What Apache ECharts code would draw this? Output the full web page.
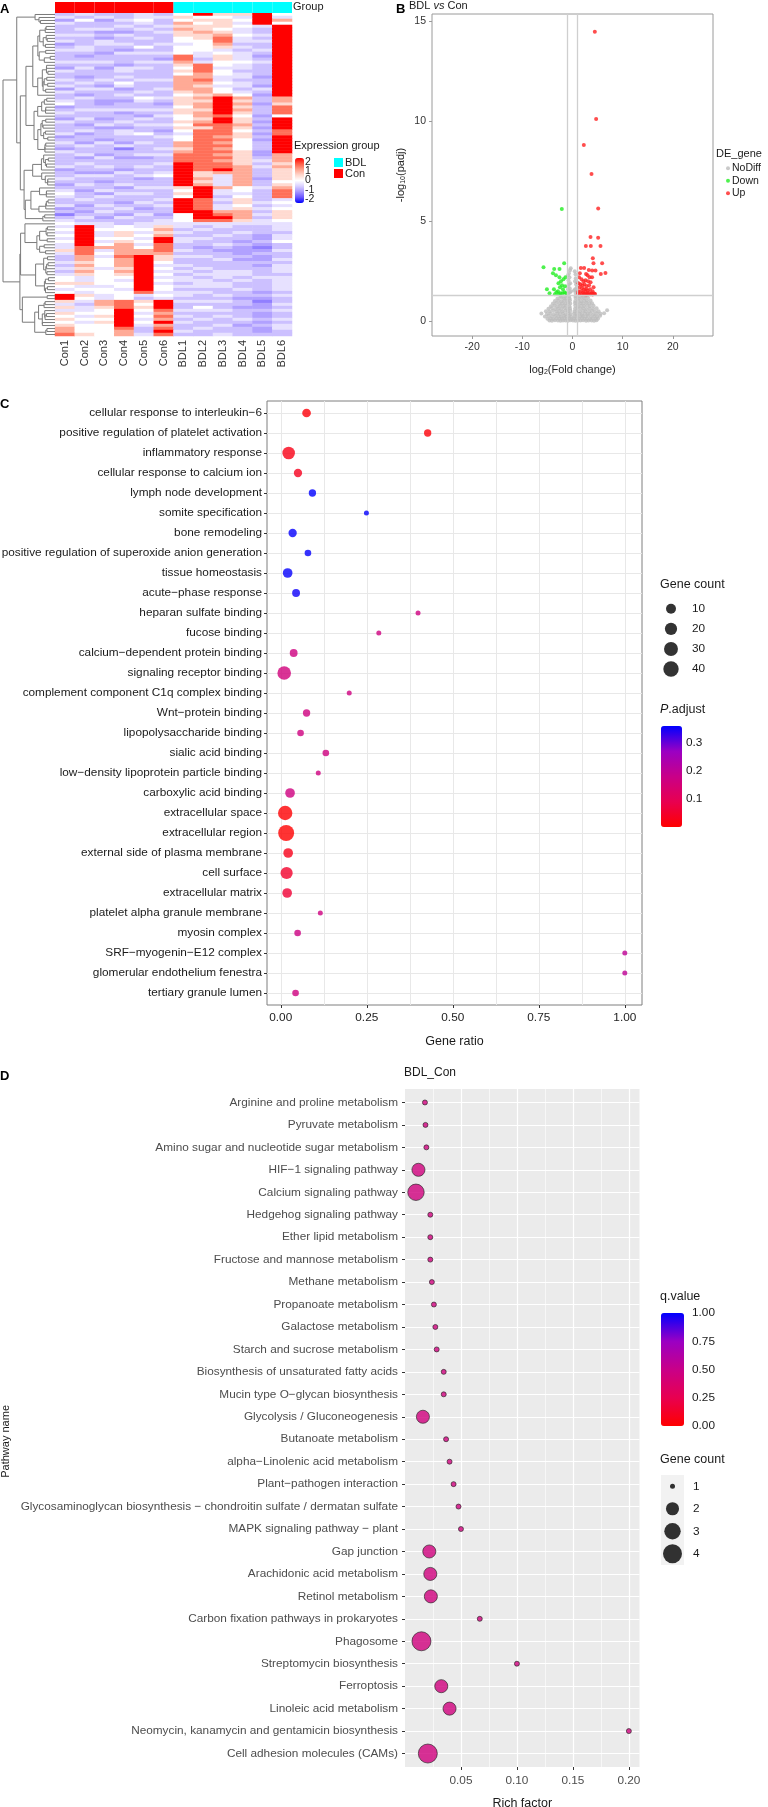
<!DOCTYPE html>
<html>
<head>
<meta charset="utf-8">
<script src="https://cdn.jsdelivr.net/npm/echarts@6/dist/echarts.min.js"></script>
<style>
html, body { margin: 0; padding: 0; background: #fff; }
#main { width: 768px; height: 1807px; }
</style>
</head>
<body>
<div id="main"></div>
<script>
// ---------- panel A: expression heatmap ----------
var samples = ['Con1', 'Con2', 'Con3', 'Con4', 'Con5', 'Con6', 'BDL1', 'BDL2', 'BDL3', 'BDL4', 'BDL5', 'BDL6'];
var sampleGroup = ['Con', 'Con', 'Con', 'Con', 'Con', 'Con', 'BDL', 'BDL', 'BDL', 'BDL', 'BDL', 'BDL'];
// one char per gene row (top to bottom), index into exprLevels
var exprLevels = [-1.3, -1.0, -0.7, -0.35, 0, 0.5, 1.0, 1.5, 2.2];
var exprCon1 = ['2313222323','1232223213','2232313223','4123213222','3123213222','2312232123','4322312023','4',
  '3434343','3532','232323','445434','88','5353','54545','667'].join('');
var exprCon2 = ['3242232322','2332123232','2123232132','2232232123','1221322312','3221322321','2232121232','3',
  '8888888','7776','656565','335343','54','3233','43434','445'].join('');
var exprCon3 = ['2312231213','3221223212','2232132221','1232212312','2213222132','2321321223','1322323212','3',
  '3433434','6343','444344','444344','33','6654','45454','444'].join('');
var exprCon4 = ['2232321322','3213222133','2324312321','2231223213','3221302212','2213222312','3221232132','2',
  '4455456','6667','666565','434434','44','7778','88888','766'].join('');
var exprCon5 = ['3343232232','2423223232','2232223243','2232132322','4223222312','2322312232','3223212322','3',
  '3434343','4668','888888','888887','32','5454','34343','223'].join('');
var exprCon6 = ['2322323222','3223213222','2232232232','1232322321','2322232322','3223422232','2232322123','3',
  '5656887','7765','543434','343443','43','8887','67686','787'].join('');
var exprBDL1 = ['4546565544','3444776545','4666665455','5455445454','3446656777','8888888854','5488888444','3',
  '3232332232','3223232332','3233232232','3232232'].join('');
var exprBDL2 = ['8454556554','4443323777','6676566565','6656656757','7777777777','7775565688','8877778887','3',
  '2322322122','3222323233','3232232432','2322322'].join('');
var exprBDL3 = ['5455545677','6534554434','4334344688','8888788777','7676767676','7786333363','3232336787','3',
  '3223223212','2322233323','3223232232','3223223'].join('');
var exprBDL4 = ['5343433433','2323334332','3323323465','6565455654','5544445555','5666666644','3455456665','3',
  '2232212111','2122233232','2322122122','2321222'].join('');
var exprBDL5 = ['8888322323','2232123222','2122132122','1222121212','1212221123','2322212232','2223232323','3',
  '2221121012','1121222322','2212101121','1212112'].join('');
var exprBDL6 = ['4364888888','8888888888','8888888866','5777488887','7888888666','5655554567','7734345554','3',
  '3323342232','2323332333','3323223232','2323322'].join('');
var exprCols = [exprCon1, exprCon2, exprCon3, exprCon4, exprCon5, exprCon6,
                exprBDL1, exprBDL2, exprBDL3, exprBDL4, exprBDL5, exprBDL6];
var exprTicksEven = [-2, 0, 2];
var exprTicksOdd = [-1, 1];

// ---------- panel B: volcano ----------
var noDiffPoints = [
  [-4.6,0.04],[-4.1,0.02],[-3.5,0.05],[-2.9,0.03],[-2.4,0.02],[-1.9,0.04],[-1.4,0.03],[-0.9,0.02],[-0.4,0.05],[0.1,0.03],
  [0.6,0.02],[1.1,0.04],[1.6,0.03],[2.1,0.05],[2.7,0.02],[3.2,0.04],[3.8,0.03],[4.3,0.02],[4.8,0.05],
  [-5.0,0.12],[-4.4,0.14],[-3.8,0.11],[-3.2,0.15],[-2.6,0.12],[-2.1,0.13],[-1.6,0.16],[-1.1,0.12],[-0.6,0.14],[-0.2,0.11],
  [0.3,0.15],[0.8,0.12],[1.3,0.13],[1.9,0.16],[2.4,0.12],[2.9,0.14],[3.5,0.11],[4.0,0.15],[4.6,0.12],[5.1,0.14],
  [-5.5,0.24],[-4.8,0.27],[-4.1,0.23],[-3.4,0.26],[-2.8,0.25],[-2.3,0.22],[-1.7,0.27],[-1.2,0.24],[-0.7,0.26],[-0.3,0.23],
  [0.4,0.25],[0.9,0.27],[1.5,0.23],[2.0,0.26],[2.6,0.24],[3.1,0.27],[3.7,0.22],[4.4,0.26],[4.9,0.24],[5.5,0.27],
  [-6.2,0.38],[-5.1,0.36],[-4.4,0.39],[-3.7,0.35],[-3.0,0.38],[-2.5,0.36],[-1.9,0.39],[-1.3,0.35],[-0.8,0.38],[-0.35,0.36],
  [0.35,0.39],[0.8,0.36],[1.4,0.38],[1.9,0.35],[2.5,0.39],[3.0,0.36],[3.6,0.38],[4.2,0.35],[4.9,0.39],[5.6,0.37],[6.3,0.4],
  [-5.3,0.5],[-4.6,0.48],[-3.9,0.52],[-3.2,0.49],[-2.6,0.51],[-2.0,0.48],[-1.4,0.52],[-0.9,0.5],[-0.45,0.53],[0.4,0.49],
  [0.9,0.52],[1.5,0.48],[2.1,0.51],[2.6,0.5],[3.3,0.48],[3.9,0.52],[4.5,0.49],[5.2,0.5],[6.9,0.55],
  [-4.8,0.62],[-4.1,0.65],[-3.4,0.61],[-2.8,0.64],[-2.2,0.62],[-1.6,0.66],[-1.0,0.63],[-0.5,0.65],[0.5,0.62],[1.0,0.66],
  [1.6,0.63],[2.2,0.65],[2.8,0.61],[3.4,0.64],[4.1,0.62],[4.8,0.65],
  [-4.3,0.75],[-3.6,0.78],[-3.0,0.74],[-2.4,0.77],[-1.8,0.76],[-1.2,0.79],[-0.6,0.75],[0.55,0.78],[1.1,0.74],[1.7,0.77],
  [2.3,0.76],[2.9,0.79],[3.5,0.75],[4.2,0.77],
  [-3.9,0.88],[-3.2,0.91],[-2.6,0.87],[-2.0,0.9],[-1.4,0.89],[-0.85,0.92],[-0.45,0.88],[0.5,0.91],[1.0,0.87],[1.6,0.9],
  [2.2,0.89],[2.8,0.92],[3.4,0.88],[3.9,0.9],
  [-3.5,1.01],[-2.8,1.04],[-2.2,1.0],[-1.6,1.03],[-1.0,1.02],[-0.5,1.05],[0.55,1.01],[1.1,1.04],[1.7,1.0],[2.3,1.03],
  [2.9,1.02],[3.6,1.04],
  [-3.0,1.14],[-2.3,1.17],[-1.7,1.13],[-1.2,1.16],[-0.6,1.15],[0.6,1.17],[1.2,1.13],[1.8,1.16],[2.4,1.15],[3.1,1.17],
  [-2.4,1.26],[-1.8,1.24],[-1.2,1.27],[-0.7,1.25],[0.6,1.26],[1.2,1.24],[1.9,1.27],[2.6,1.25],
  [-0.8,1.4],[-0.5,1.45],[0.6,1.42],[0.9,1.5],[-0.9,1.6],[-0.55,1.65],[0.55,1.6],[0.85,1.7],[-0.7,1.85],[-0.45,1.9],
  [0.7,1.85],[0.5,2.0],[-0.8,2.05],[-0.6,2.2],[0.65,2.15],[-0.7,2.4],[-0.5,2.55],[0.6,2.35],[-0.35,2.65],[0.45,2.5],
  [-0.9,2.3],[0.9,1.95],[-0.95,1.75],[0.35,1.55],[-0.3,1.5]
];
var downPoints = [
  [-2.13,5.61],[-5.78,2.69],[-3.65,2.61],[-2.59,2.61],[-1.66,2.89],[-3.9,2.4],[-3.3,2.3],[-2.6,2.2],[-2.3,2.0],
  [-5.1,1.6],[-4.58,1.39],[-3.7,1.6],[-2.9,1.5],[-2.5,1.7],[-2.1,1.8],[-1.9,1.6],[-1.5,1.75],[-2.8,1.9],[-3.2,1.45],
  [-2.4,1.4],[-2.0,1.4],[-1.6,1.45],[-1.3,1.4],[-2.7,1.35],[-3.5,1.35],[-1.8,2.1],[-1.4,2.2]
];
var upPoints = [
  [4.45,14.46],[4.71,10.1],[2.26,8.8],[3.79,7.36],[5.12,5.63],[3.59,4.21],[5.11,4.17],[2.66,3.76],[3.65,3.76],[5.58,3.76],
  [4.05,3.15],[4.18,2.9],[5.91,2.89],[1.66,2.66],[2.32,2.66],[3.25,2.56],[3.92,2.53],[4.58,2.53],[5.64,2.36],[6.57,2.41],
  [1.46,2.39],[2.7,2.36],[3.0,2.3],[3.4,2.2],[1.3,2.2],[1.8,2.1],[2.2,2.0],[2.6,2.05],[3.1,2.0],[3.6,1.95],
  [1.2,1.9],[1.6,1.85],[2.0,1.8],[2.4,1.85],[2.8,1.75],[3.3,1.8],[1.4,1.7],[1.9,1.65],[2.3,1.6],[2.7,1.6],
  [3.0,1.55],[3.5,1.6],[4.0,1.5],[1.2,1.5],[1.7,1.5],[2.1,1.45],[2.5,1.45],[2.9,1.4],[3.3,1.42],[3.8,1.4],
  [4.3,1.38],[1.4,1.36],[1.9,1.35],[2.3,1.34],[2.7,1.33],[3.1,1.35],[3.6,1.34],[4.0,1.33],[4.5,1.36],[1.1,1.4],
  [4.2,1.7],[3.9,2.2]
];
var foldCut = 1;
var padjLine = -Math.log10(0.05);
var volcanoXTicks = [-20, -10, 0, 10, 20];
var volcanoYTicks = [0, 5, 10, 15];

// ---------- panel C: GO enrichment ----------
var goTerms = [
  'cellular response to interleukin\u22126', 'positive regulation of platelet activation', 'inflammatory response',
  'cellular response to calcium ion', 'lymph node development', 'somite specification', 'bone remodeling',
  'positive regulation of superoxide anion generation', 'tissue homeostasis', 'acute\u2212phase response',
  'heparan sulfate binding', 'fucose binding', 'calcium\u2212dependent protein binding', 'signaling receptor binding',
  'complement component C1q complex binding', 'Wnt\u2212protein binding', 'lipopolysaccharide binding',
  'sialic acid binding', 'low\u2212density lipoprotein particle binding', 'carboxylic acid binding',
  'extracellular space', 'extracellular region', 'external side of plasma membrane', 'cell surface',
  'extracellular matrix', 'platelet alpha granule membrane', 'myosin complex', 'SRF\u2212myogenin\u2212E12 complex',
  'glomerular endothelium fenestra', 'tertiary granule lumen'
];
var goRatio = [0.075, 0.427, 0.023, 0.050, 0.092, 0.249, 0.0345, 0.079, 0.020, 0.0445,
               0.399, 0.285, 0.0375, 0.010, 0.199, 0.075, 0.0575, 0.131, 0.109, 0.027,
               0.0129, 0.0157, 0.0215, 0.017, 0.0186, 0.115, 0.049, 1.0, 1.0, 0.043];
var goCount = [6, 3, 22, 5, 3, 1, 5, 2, 9, 4,
               1, 1, 4, 28, 1, 3, 2, 2, 1, 9,
               33, 45, 9, 20, 9, 1, 2, 1, 1, 2];
var goPadj = [0.012, 0.012, 0.025, 0.035, 0.358, 0.355, 0.355, 0.355, 0.355, 0.35,
              0.165, 0.165, 0.165, 0.16, 0.165, 0.165, 0.165, 0.165, 0.165, 0.165,
              0.004, 0.002, 0.03, 0.05, 0.06, 0.165, 0.17, 0.2, 0.2, 0.165];
var goRatioTicks = [0, 0.25, 0.5, 0.75, 1.0];
var goCountBreaks = [10, 20, 30, 40];
var goPadjTicks = [0.1, 0.2, 0.3];

// ---------- panel D: KEGG enrichment ----------
var keggPathways = [
  'Arginine and proline metabolism', 'Pyruvate metabolism', 'Amino sugar and nucleotide sugar metabolism',
  'HIF\u22121 signaling pathway', 'Calcium signaling pathway', 'Hedgehog signaling pathway', 'Ether lipid metabolism',
  'Fructose and mannose metabolism', 'Methane metabolism', 'Propanoate metabolism', 'Galactose metabolism',
  'Starch and sucrose metabolism', 'Biosynthesis of unsaturated fatty acids', 'Mucin type O\u2212glycan biosynthesis',
  'Glycolysis / Gluconeogenesis', 'Butanoate metabolism', 'alpha\u2212Linolenic acid metabolism',
  'Plant\u2212pathogen interaction', 'Glycosaminoglycan biosynthesis \u2212 chondroitin sulfate / dermatan sulfate',
  'MAPK signaling pathway \u2212 plant', 'Gap junction', 'Arachidonic acid metabolism', 'Retinol metabolism',
  'Carbon fixation pathways in prokaryotes', 'Phagosome', 'Streptomycin biosynthesis', 'Ferroptosis',
  'Linoleic acid metabolism', 'Neomycin, kanamycin and gentamicin biosynthesis', 'Cell adhesion molecules (CAMs)'
];
var keggRich = [0.0178, 0.0183, 0.0191, 0.0120, 0.0098, 0.0226, 0.0226, 0.0226, 0.0240, 0.0258,
                0.0271, 0.0283, 0.0346, 0.0346, 0.0160, 0.0367, 0.0398, 0.0434, 0.0478, 0.0500,
                0.0217, 0.0226, 0.0231, 0.0668, 0.0147, 0.1000, 0.0324, 0.0398, 0.2000, 0.0204];
var keggCount = [1, 1, 1, 2, 3, 1, 1, 1, 1, 1,
                 1, 1, 1, 1, 2, 1, 1, 1, 1, 1,
                 2, 2, 2, 1, 4, 1, 2, 2, 1, 4];
var keggQ = [0.45, 0.45, 0.45, 0.45, 0.45, 0.45, 0.45, 0.45, 0.45, 0.45,
             0.45, 0.45, 0.45, 0.45, 0.45, 0.45, 0.45, 0.45, 0.45, 0.45,
             0.45, 0.45, 0.45, 0.45, 0.45, 0.45, 0.45, 0.45, 0.45, 0.45];
var keggRichTicks = [0.05, 0.10, 0.15, 0.20];
var keggCountBreaks = [1, 2, 3, 4];
var keggQTicks = [0, 0.25, 0.5, 0.75, 1.0];

// ---------- helpers ----------
var FONT_A = '"Liberation Sans", Arial, sans-serif';
var FONT_N = '"Liberation Sans Narrow", "Arial Narrow", "Liberation Sans", sans-serif';
var LBL = 11.8;   // enrichment plot label size
var heatColors = ['#0000FF', '#6a55ff', '#a897ff', '#d9d0ff', '#FFFFFF', '#ffd6cc', '#ffa08a', '#ff5c45', '#FF0000'];
var redBlue = ['#FF0000', '#E80050', '#C90088', '#9A00C3', '#0000FF'];

var nRows = exprCon1.length;
var exprRows = [];
for (var r = 0; r < nRows; r++) {
  var row = [];
  for (var c = 0; c < exprCols.length; c++) row.push(exprLevels[+exprCols[c].charAt(r)]);
  exprRows.push(row);
}
var heatData = [];
exprRows.forEach(function (row, ri) {
  row.forEach(function (v, ci) { heatData.push([ci, ri, v]); });
});
var rowIds = exprRows.map(function (_, i) { return String(i); });

// row dendrogram: complete linkage, merging neighbouring clusters so the row order is kept
function buildDendrogram(rows) {
  var n = rows.length, dist = [];
  for (var i = 0; i < n; i++) {
    dist.push([]);
    for (var j = 0; j < n; j++) {
      var s = 0;
      for (var k = 0; k < rows[i].length; k++) { var d = rows[i][k] - rows[j][k]; s += d * d; }
      dist[i].push(Math.sqrt(s));
    }
  }
  function link(a, b) {
    var m = 0;
    a.members.forEach(function (p) { b.members.forEach(function (q) { if (dist[p][q] > m) m = dist[p][q]; }); });
    return m;
  }
  var clusters = rows.map(function (_, i) { return { members: [i], y: i, h: 0 }; });
  var segs = [];
  while (clusters.length > 1) {
    var best = 0, bestD = Infinity;
    for (var t = 0; t < clusters.length - 1; t++) {
      var dd = link(clusters[t], clusters[t + 1]);
      if (dd < bestD) { bestD = dd; best = t; }
    }
    var a = clusters[best], b = clusters[best + 1];
    var h = Math.max(bestD, a.h, b.h);
    segs.push([h, a.y, b.y, a.h, b.h]);
    clusters.splice(best, 2, { members: a.members.concat(b.members), y: (a.y + b.y) / 2, h: h });
  }
  return segs;
}
var dendroSegs = buildDendrogram(exprRows);
var dendroMax = dendroSegs[dendroSegs.length - 1][0];

var cMin = Math.min.apply(null, goCount), cMax = Math.max.apply(null, goCount);
function sizeC(n) { return 5 + 11 * Math.sqrt((n - cMin) / (cMax - cMin)); }
var kMin = Math.min.apply(null, keggCount), kMax = Math.max.apply(null, keggCount);
function sizeD(n) { return 5 + 14 * Math.sqrt((n - kMin) / (kMax - kMin)); }
var pMin = Math.min.apply(null, goPadj), pMax = Math.max.apply(null, goPadj);

function eighths(ticks) {
  var out = [];
  for (var i = 0; i < ticks.length; i++) {
    out.push(ticks[i]);
    if (i < ticks.length - 1) out.push((ticks[i] + ticks[i + 1]) / 2);
  }
  return out;
}
var keggGridVals = [0.025].concat(eighths(keggRichTicks));

var goData = goTerms.map(function (t, i) { return [goRatio[i], i, goCount[i], goPadj[i]]; });
var keggData = keggPathways.map(function (t, i) { return [keggRich[i], i, keggCount[i], keggQ[i]]; });
var catIdxC = goTerms.map(function (_, i) { return i; });
var catIdxD = keggPathways.map(function (_, i) { return i; });

var hidden = { show: false };
var noLine = { show: false, onZero: false };
function grid(l, t, w, h, extra) {
  var g = { left: l, top: t, width: w, height: h, containLabel: false, outerBoundsMode: 'none' };
  for (var k in extra) g[k] = extra[k];
  return g;
}
function txt(x, y, s, size, fam, extra) {
  var st = { text: s, fontSize: size, fontFamily: fam, fill: '#1a1a1a' };
  var el = { type: 'text', left: x, top: y, style: st, silent: true };
  for (var k in extra) {
    if (k === 'rotation') el.rotation = extra[k]; else st[k] = extra[k];
  }
  return el;
}
function heatLegendAxis(ticks) {
  return { gridIndex: 3, type: 'value', min: -2.2, max: 2.2, position: 'right', axisLine: noLine, axisTick: hidden,
    splitLine: hidden,
    axisLabel: { customValues: ticks, margin: 1, fontSize: 10.5, hideOverlap: false,
      fontFamily: FONT_A, color: '#222' } };
}

var chart = echarts.init(document.getElementById('main'));

var option = {
  animation: false,
  backgroundColor: '#ffffff',
  textStyle: { fontFamily: FONT_A },
  grid: [
    grid(55, 2, 237, 11),                 // 0 group bar
    grid(55, 13, 237, 323),               // 1 heatmap
    grid(3, 13, 52, 323),                 // 2 dendrogram
    grid(295, 160, 9, 41),                // 3 heat colour bar labels
    grid(432, 14, 281, 322, { show: true, borderColor: '#9a9a9a', borderWidth: 1, backgroundColor: 'transparent' }), // 4 volcano
    grid(267, 401, 375, 604, { show: true, borderColor: '#7f7f7f', borderWidth: 1, backgroundColor: 'transparent' }), // 5 GO
    grid(661, 598.7, 20, 80.4),           // 6 GO count legend
    grid(661, 726, 21, 101),              // 7 p.adjust labels
    grid(405, 1089, 234.5, 678, { show: true, borderWidth: 0, backgroundColor: '#EBEBEB' }), // 8 KEGG
    grid(661, 1313, 23, 113),             // 9 q.value labels
    grid(661, 1475, 23, 90, { show: true, borderWidth: 0, backgroundColor: '#F2F2F2' })    // 10 KEGG count legend
  ],
  xAxis: [
    { gridIndex: 0, type: 'category', data: samples, show: false },
    { gridIndex: 1, type: 'category', data: samples, axisLine: noLine, axisTick: hidden,
      axisLabel: { rotate: 90, interval: 0, margin: 4, fontSize: 11, fontFamily: FONT_A, color: '#333' } },
    { gridIndex: 2, type: 'value', min: 0, max: dendroMax, inverse: true, show: false },
    { gridIndex: 3, type: 'value', show: false, min: 0, max: 1 },
    { gridIndex: 4, type: 'value', min: -28, max: 28, axisLine: noLine, splitLine: hidden,
      axisTick: { show: true, customValues: volcanoXTicks, length: 3, lineStyle: { color: '#9a9a9a' } },
      axisLabel: { customValues: volcanoXTicks, margin: 6, fontSize: 10.5, color: '#333', fontFamily: FONT_A },
      name: 'log{s|2}(Fold change)', nameLocation: 'middle', nameGap: 27, nameMoveOverlap: false,
      nameTextStyle: { fontSize: 11, color: '#222', fontFamily: FONT_A, rich: { s: { fontSize: 7, padding: [6, 0, 0, 0] } } } },
    { gridIndex: 5, type: 'value', min: -0.04, max: 1.05, axisLine: noLine,
      axisTick: { show: false, customValues: eighths(goRatioTicks) },
      axisLabel: { customValues: goRatioTicks, formatter: function (v) { return v.toFixed(2); },
        margin: 7, fontSize: LBL, fontFamily: FONT_N, color: '#222' },
      splitLine: { show: true, lineStyle: { color: '#e8e8e8', width: 1 } },
      name: 'Gene ratio', nameLocation: 'middle', nameGap: 30, nameMoveOverlap: false,
      nameTextStyle: { fontSize: 12.5, fontFamily: FONT_N, color: '#1a1a1a' } },
    { gridIndex: 5, type: 'value', min: -0.04, max: 1.05, position: 'bottom', axisLine: noLine,
      axisTick: { show: true, customValues: goRatioTicks, length: 3, lineStyle: { color: '#333' } },
      axisLabel: hidden, splitLine: hidden },
    { gridIndex: 6, type: 'category', data: [''], show: false },
    { gridIndex: 7, type: 'value', show: false, min: 0, max: 1 },
    { gridIndex: 8, type: 'value', min: 0, max: 0.2095, axisLine: noLine,
      axisTick: { show: false, customValues: keggGridVals },
      axisLabel: { customValues: keggRichTicks, formatter: function (v) { return v.toFixed(2); },
        margin: 8, fontSize: LBL, fontFamily: FONT_N, color: '#4d4d4d' },
      splitLine: { show: true, lineStyle: { color: '#ffffff', width: 0.6 } },
      name: 'Rich factor', nameLocation: 'middle', nameGap: 30, nameMoveOverlap: false,
      nameTextStyle: { fontSize: 12.5, fontFamily: FONT_N, color: '#1a1a1a' } },
    { gridIndex: 8, type: 'value', min: 0, max: 0.2095, position: 'bottom', axisLine: noLine,
      axisTick: { show: true, customValues: keggRichTicks, length: 3, lineStyle: { color: '#333' } },
      axisLabel: hidden,
      splitLine: { show: true, lineStyle: { color: '#ffffff', width: 1.2 } } },
    { gridIndex: 9, type: 'value', show: false, min: 0, max: 1 },
    { gridIndex: 10, type: 'category', data: [''], show: false }
  ],
  yAxis: [
    { gridIndex: 0, type: 'value', min: 0, max: 1, show: false },
    { gridIndex: 1, type: 'category', data: rowIds, inverse: true, show: false },
    { gridIndex: 2, type: 'value', min: -0.5, max: nRows - 0.5, inverse: true, show: false },
    heatLegendAxis(exprTicksEven),
    { gridIndex: 4, type: 'value', min: -0.74, max: 15.35, axisLine: noLine, splitLine: hidden,
      axisTick: { show: true, customValues: volcanoYTicks, length: 3, lineStyle: { color: '#9a9a9a' } },
      axisLabel: { customValues: volcanoYTicks, margin: 6, fontSize: 10.5, color: '#333', fontFamily: FONT_A },
      name: '-log{s|10}(padj)', nameLocation: 'middle', nameGap: 25, nameMoveOverlap: false,
      nameTextStyle: { fontSize: 11, color: '#222', fontFamily: FONT_A, rich: { s: { fontSize: 7, padding: [6, 0, 0, 0] } } } },
    { gridIndex: 5, type: 'value', inverse: true, min: -0.6, max: goTerms.length - 0.4, axisLine: noLine,
      axisTick: { show: true, customValues: catIdxC, length: 3, lineStyle: { color: '#333' } },
      axisLabel: { customValues: catIdxC, formatter: function (v) { return goTerms[v]; },
        margin: 5, fontSize: LBL, fontFamily: FONT_N, color: '#1a1a1a' },
      splitLine: { show: true, lineStyle: { color: '#e8e8e8', width: 1 } } },
    { gridIndex: 6, type: 'category', data: goCountBreaks.map(String), inverse: true, position: 'right',
      axisLine: noLine, axisTick: hidden,
      axisLabel: { margin: 11, fontSize: LBL, fontFamily: FONT_N, color: '#1a1a1a' } },
    { gridIndex: 7, type: 'value', min: pMin, max: pMax, position: 'right', axisLine: noLine, splitLine: hidden,
      axisTick: { show: true, inside: true, customValues: goPadjTicks, length: 4, lineStyle: { color: '#ffffff' } },
      axisLabel: { customValues: goPadjTicks, formatter: function (v) { return v.toFixed(1); },
        margin: 4, fontSize: LBL, fontFamily: FONT_N, color: '#1a1a1a' } },
    { gridIndex: 8, type: 'value', inverse: true, min: -0.6, max: keggPathways.length - 0.4, axisLine: noLine,
      axisTick: { show: true, customValues: catIdxD, length: 3, lineStyle: { color: '#333' } },
      axisLabel: { customValues: catIdxD, formatter: function (v) { return keggPathways[v]; },
        margin: 7, fontSize: LBL, fontFamily: FONT_N, color: '#4d4d4d' },
      splitLine: { show: true, lineStyle: { color: '#ffffff', width: 1.2 } } },
    { gridIndex: 9, type: 'value', min: 0, max: 1, position: 'right', axisLine: noLine, splitLine: hidden,
      axisTick: { show: true, inside: true, customValues: keggQTicks, length: 4, lineStyle: { color: '#ffffff' } },
      axisLabel: { customValues: keggQTicks, formatter: function (v) { return v.toFixed(2); },
        margin: 8, fontSize: LBL, fontFamily: FONT_N, color: '#1a1a1a' } },
    { gridIndex: 10, type: 'category', data: keggCountBreaks.map(String), inverse: true, position: 'right',
      axisLine: noLine, axisTick: hidden,
      axisLabel: { margin: 9, fontSize: LBL, fontFamily: FONT_N, color: '#1a1a1a' } },
    heatLegendAxis(exprTicksOdd)
  ],
  visualMap: [
    { type: 'continuous', seriesIndex: 2, dimension: 2, min: -2.2, max: 2.2, calculable: false,
      inRange: { color: heatColors }, left: 295, top: 158, itemWidth: 9, itemHeight: 45, padding: 0,
      textStyle: { fontSize: 0 } },
    { type: 'continuous', seriesIndex: 7, dimension: 3, min: pMin, max: pMax, calculable: false,
      inRange: { color: redBlue }, left: 661, top: 726, itemWidth: 21, itemHeight: 101, padding: 0,
      textStyle: { fontSize: 0 } },
    { type: 'continuous', seriesIndex: 9, dimension: 3, min: 0, max: 1, calculable: false,
      inRange: { color: redBlue }, left: 661, top: 1313, itemWidth: 23, itemHeight: 113, padding: 0,
      textStyle: { fontSize: 0 } }
  ],
  legend: [
    { data: ['BDL', 'Con'], left: 334, top: 157, orient: 'vertical', icon: 'rect', itemWidth: 9, itemHeight: 9,
      itemGap: 0, padding: 0, selectedMode: false,
      textStyle: { fontSize: 11, fontFamily: FONT_A, color: '#1a1a1a', lineHeight: 9, padding: [0, 0, 0, -3] } },
    { data: ['NoDiff', 'Down', 'Up'], left: 726, top: 162, orient: 'vertical', icon: 'circle', itemWidth: 4,
      itemHeight: 4, itemGap: 0, padding: 0, selectedMode: false,
      textStyle: { fontSize: 10.5, fontFamily: FONT_A, color: '#1a1a1a', lineHeight: 12.5, padding: [0, 0, 0, -3] } }
  ],
  graphic: [
    txt(0, 3, 'A', 13, FONT_A, { fontWeight: 'bold', fill: '#000' }),
    txt(396, 3, 'B', 13, FONT_A, { fontWeight: 'bold', fill: '#000' }),
    txt(0, 398, 'C', 13, FONT_A, { fontWeight: 'bold', fill: '#000' }),
    txt(0, 1070, 'D', 13, FONT_A, { fontWeight: 'bold', fill: '#000' }),
    txt(293, 1, 'Group', 11, FONT_A),
    txt(294, 140, 'Expression group', 11, FONT_A),
    txt(409, 0, '{n|BDL }{i|vs}{n| Con}', 11, FONT_A,
      { rich: { n: { fontSize: 11, fontFamily: FONT_A, fill: '#1a1a1a' },
                i: { fontSize: 11, fontFamily: FONT_A, fontStyle: 'italic', fill: '#1a1a1a' } } }),
    txt(716, 148, 'DE_gene', 11, FONT_A),
    txt(660, 578, 'Gene count', 12.5, FONT_N),
    txt(660, 703, '{i|P}{n|.adjust}', 12.5, FONT_N,
      { rich: { n: { fontSize: 12.5, fontFamily: FONT_N, fill: '#1a1a1a' },
                i: { fontSize: 12.5, fontFamily: FONT_N, fontStyle: 'italic', fill: '#1a1a1a' } } }),
    txt(404, 1067, 'BDL_Con', 12, FONT_N),
    txt(660, 1290, 'q.value', 12.5, FONT_N),
    txt(660, 1453, 'Gene count', 12.5, FONT_N),
    txt(0, 1405, 'Pathway name', 11, FONT_A, { rotation: Math.PI / 2 })
  ],
  series: [
    { name: 'Con', type: 'bar', xAxisIndex: 0, yAxisIndex: 0, stack: 'grp', barCategoryGap: '0%', silent: true,
      itemStyle: { color: '#FF0000' },
      data: sampleGroup.map(function (g) { return g === 'Con' ? 1 : '-'; }) },
    { name: 'BDL', type: 'bar', xAxisIndex: 0, yAxisIndex: 0, stack: 'grp', barCategoryGap: '0%', silent: true,
      itemStyle: { color: '#00FFFF' },
      data: sampleGroup.map(function (g) { return g === 'BDL' ? 1 : '-'; }) },
    { type: 'heatmap', xAxisIndex: 1, yAxisIndex: 1, data: heatData, silent: true, progressive: 0 },
    { type: 'custom', xAxisIndex: 2, yAxisIndex: 2, silent: true, data: dendroSegs,
      encode: { x: [0, 3, 4], y: [1, 2] },
      renderItem: function (params, api) {
        var h = api.value(0), ya = api.value(1), yb = api.value(2), ha = api.value(3), hb = api.value(4);
        return { type: 'polyline',
          shape: { points: [api.coord([ha, ya]), api.coord([h, ya]), api.coord([h, yb]), api.coord([hb, yb])] },
          style: { stroke: '#7a7a7a', lineWidth: 1, fill: null } };
      } },
    { name: 'NoDiff', type: 'scatter', xAxisIndex: 4, yAxisIndex: 4, data: noDiffPoints, symbolSize: 4,
      itemStyle: { color: '#bdbdbd' }, silent: true,
      markLine: { silent: true, symbol: ['none', 'none'], label: { show: false },
        lineStyle: { color: '#cfcfcf', type: 'solid', width: 1.3 },
        data: [{ xAxis: -foldCut }, { xAxis: foldCut }, { yAxis: padjLine }] } },
    { name: 'Down', type: 'scatter', xAxisIndex: 4, yAxisIndex: 4, data: downPoints, symbolSize: 4,
      itemStyle: { color: '#22ee22' }, silent: true },
    { name: 'Up', type: 'scatter', xAxisIndex: 4, yAxisIndex: 4, data: upPoints, symbolSize: 4,
      itemStyle: { color: '#ff2020' }, silent: true },
    { type: 'scatter', xAxisIndex: 5, yAxisIndex: 5, data: goData, silent: true,
      symbolSize: function (v) { return sizeC(v[2]); } },
    { type: 'scatter', xAxisIndex: 7, yAxisIndex: 6, silent: true, itemStyle: { color: '#000' },
      data: goCountBreaks.map(function (n, i) { return [0, i, n]; }),
      symbolSize: function (v) { return sizeC(v[2]); } },
    { type: 'scatter', xAxisIndex: 9, yAxisIndex: 8, data: keggData, silent: true,
      itemStyle: { borderColor: '#222', borderWidth: 0.8 },
      symbolSize: function (v) { return sizeD(v[2]); } },
    { type: 'scatter', xAxisIndex: 12, yAxisIndex: 10, silent: true, itemStyle: { color: '#000' },
      data: keggCountBreaks.map(function (n, i) { return [0, i, n]; }),
      symbolSize: function (v) { return sizeD(v[2]); } }
  ]
};

chart.setOption(option);
</script>
</body>
</html>
